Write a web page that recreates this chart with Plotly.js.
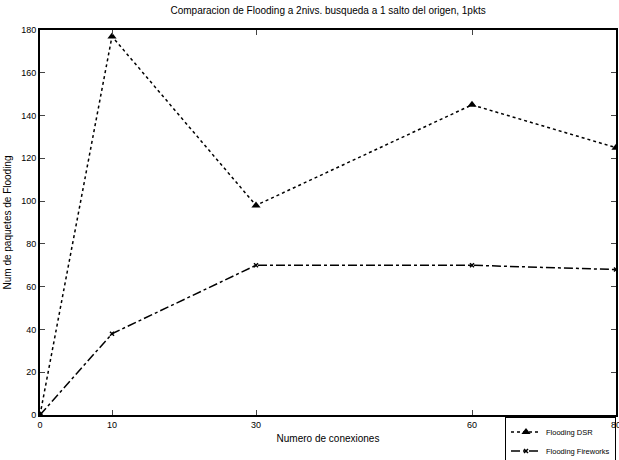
<!DOCTYPE html>
<html><head><meta charset="utf-8">
<script src="https://cdn.plot.ly/plotly-3.0.1.min.js"></script>
<style>html,body{margin:0;padding:0;background:#fff}#chart{width:619px;height:460px}</style>
</head><body><div id="chart"></div>
<script>
const conexiones = [0, 10, 30, 60, 80];
const floodingDSR = [0, 177, 98, 145, 125];
const floodingFireworks = [0, 38, 70, 70, 68];
const xTicks = [0, 10, 30, 60, 80];
const yTicks = [0, 20, 40, 60, 80, 100, 120, 140, 160, 180];

const traces = [
  {x: conexiones, y: floodingDSR, name: 'Flooding DSR', mode: 'lines+markers',
   line: {color: '#000', dash: 'dot', width: 1.5},
   marker: {symbol: 'triangle-up', size: 8, color: '#000'}},
  {x: conexiones, y: floodingFireworks, name: 'Flooding Fireworks', mode: 'lines+markers',
   line: {color: '#000', dash: 'dashdot', width: 1.5},
   marker: {symbol: 'x-thin-open', size: 4, color: '#000', line: {color: '#000', width: 1.5}}}
];

const layout = {
  width: 619, height: 460,
  margin: {l: 40, r: 3, t: 30, b: 45, autoexpand: false},
  paper_bgcolor: '#fff', plot_bgcolor: '#fff',
  font: {family: 'Liberation Sans, Arial, sans-serif', color: '#000', size: 9},
  title: {text: 'Comparacion de Flooding a 2nivs. busqueda a 1 salto del origen, 1pkts', x: 0.53, xanchor: 'center', y: 0.985, yanchor: 'top', font: {size: 10}},
  xaxis: {range: [0, 80], tickvals: xTicks, ticktext: xTicks.map(String), ticks: 'inside', ticklen: 5,
          ticklabeloverflow: 'allow',
          showline: true, linecolor: '#000', linewidth: 2, mirror: 'ticks', showgrid: false, zeroline: false,
          title: {text: 'Numero de conexiones', font: {size: 10}, standoff: 6}},
  yaxis: {range: [0, 180], tickvals: yTicks, ticks: 'inside', ticklen: 5,
          showline: true, linecolor: '#000', linewidth: 2, mirror: 'ticks', showgrid: false, zeroline: false,
          title: {text: 'Num de paquetes de Flooding', font: {size: 10}, standoff: 8}},
  showlegend: true,
  legend: {x: 1.0, xanchor: 'right', y: -0.004, yanchor: 'top',
           bordercolor: '#000', borderwidth: 1, bgcolor: 'rgba(255,255,255,0)', font: {size: 7.5},
           tracegroupgap: 0, itemwidth: 30}
};

Plotly.newPlot('chart', traces, layout, {displayModeBar: false, staticPlot: true});
</script></body></html>
